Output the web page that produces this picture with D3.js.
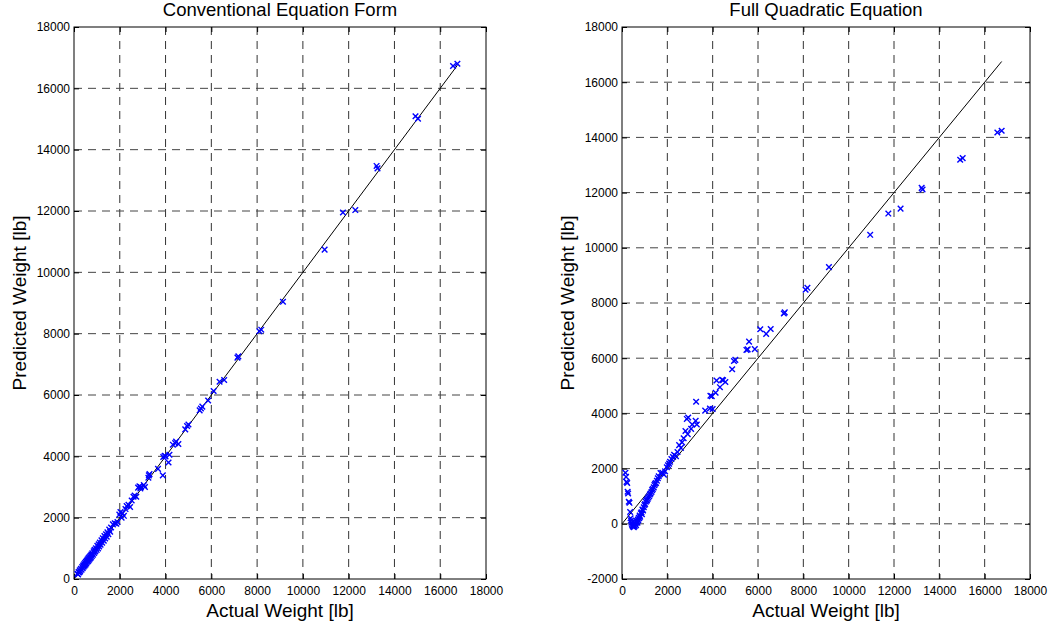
<!DOCTYPE html>
<html>
<head>
<meta charset="utf-8">
<script src="https://cdn.jsdelivr.net/npm/d3@7"></script>
<style>
  body { margin: 0; background: #fff; }
  text { font-family: "Liberation Sans", Arial, sans-serif; }
</style>
</head>
<body>
<div id="chart"></div>
<script>
// actual vs predicted weights [lb]
const actualWeight = [
  150, 180, 200, 230, 250, 270, 300, 330, 360, 380, 400, 420, 440, 460, 480, 500, 520, 540, 560, 580,
  600, 620, 640, 660, 680, 700, 720, 740, 760, 780, 800, 830, 860, 880, 900, 930, 960, 990, 1020, 1050,
  1080, 1100, 1130, 1160, 1200, 1230, 1260, 1300, 1330, 1360, 1400, 1430, 1460, 1500, 1540, 1580, 1620, 1700, 1780, 1850,
  1900, 1980, 2030, 2080, 2120, 2180, 2250, 2300, 2380, 2450, 2520, 2600, 2650, 2720, 2800, 2860, 2900, 2920, 3050, 3100,
  3250, 3270, 3300, 3670, 3880, 3900, 3960, 4000, 4130, 4170, 4320, 4420, 4460, 4560, 4860, 4940, 5000, 5490, 5545, 5606,
  5860, 6100, 6360, 6560, 7140, 7180, 8100, 8180, 9130, 10950, 11750, 12290, 13220, 13260, 14920, 15030, 16560, 16750
];
const predConventional = [
  170, 150, 230, 210, 280, 250, 330, 300, 390, 350, 440, 400, 480, 430, 520, 470, 560, 510, 600, 560,
  640, 590, 680, 630, 720, 670, 760, 700, 800, 750, 840, 790, 900, 850, 950, 900, 1000, 950, 1080, 1000,
  1130, 1060, 1190, 1120, 1260, 1180, 1330, 1250, 1400, 1320, 1460, 1380, 1520, 1460, 1610, 1540, 1680, 1780, 1820, 1800,
  1860, 2100, 2180, 2000, 2140, 2060, 2280, 2380, 2420, 2350, 2560, 2680, 2720, 2680, 2980, 3020, 2950, 3000, 3060, 3000,
  3300, 3380, 3420, 3590, 3380, 3980, 4020, 4000, 3800, 4050, 4380, 4430, 4480, 4400, 4880, 4990, 5040, 5500, 5560, 5620,
  5820, 6130, 6430, 6490, 7220, 7260, 8080, 8130, 9040, 10740, 11950, 12030, 13470, 13390, 15090, 15010, 16730, 16800
];
const predQuadratic = [
  1850, 1700, 1520, 1480, 1160, 1100, 800, 760, 430, 200, 120, 40, -20, -60, -100, -80, -120, -40, -90, 0,
  20, -50, 60, 100, 40, 150, 120, 220, 200, 300, 260, 380, 420, 350, 520, 480, 600, 680, 720, 800,
  850, 850, 900, 950, 1000, 1060, 1100, 1150, 1220, 1260, 1320, 1400, 1450, 1480, 1560, 1650, 1720, 1840, 1850, 1780,
  1900, 2050, 2120, 2180, 2250, 2350, 2420, 2500, 2450, 2600, 2850, 2750, 2950, 3100, 3360, 3800, 3250, 3850, 3440, 3600,
  3730, 4420, 3600, 4100, 4180, 4640, 4620, 4160, 4750, 5190, 4950, 5220, 5200, 5140, 5600, 5900, 5940, 6300, 6320, 6600,
  6330, 7050, 6880, 7060, 7620, 7660, 8480, 8550, 9300, 10470, 11240, 11420, 12170, 12110, 13190, 13250, 14180, 14240
];

const xTicks = [0, 2000, 4000, 6000, 8000, 10000, 12000, 14000, 16000, 18000];
const yTicksConventional = [0, 2000, 4000, 6000, 8000, 10000, 12000, 14000, 16000, 18000];
const yTicksQuadratic = [-2000, 0, 2000, 4000, 6000, 8000, 10000, 12000, 14000, 16000, 18000];
const titles = ["Conventional Equation Form", "Full Quadratic Equation"];
const xLabel = "Actual Weight [lb]";
const yLabel = "Predicted Weight [lb]";

const width = 1064, height = 625;
const plotTop = 27, plotBottom = 579;

const panels = [
  { title: titles[0], pred: predConventional, yTicks: yTicksConventional, left: 74, right: 486 },
  { title: titles[1], pred: predQuadratic, yTicks: yTicksQuadratic, left: 622, right: 1030 }
];

const svg = d3.select("#chart")
  .append("svg")
  .attr("width", width)
  .attr("height", height);

const plain = d => String(d);

panels.forEach(p => {
  const x = d3.scaleLinear().domain(d3.extent(xTicks)).range([p.left, p.right]);
  const y = d3.scaleLinear().domain(d3.extent(p.yTicks)).range([plotBottom, plotTop]);
  const g = svg.append("g");

  // dashed grid
  g.selectAll(".vgrid")
    .data(xTicks.slice(1, -1))
    .enter().append("line")
    .attr("x1", d => x(d)).attr("x2", d => x(d))
    .attr("y1", plotTop).attr("y2", plotBottom)
    .attr("stroke", "#333")
    .attr("stroke-dasharray", "8,6");

  g.selectAll(".hgrid")
    .data(p.yTicks.slice(1, -1))
    .enter().append("line")
    .attr("x1", p.left).attr("x2", p.right)
    .attr("y1", d => y(d)).attr("y2", d => y(d))
    .attr("stroke", "#444")
    .attr("stroke-dasharray", "8,6");

  // axes, ticks pointing inward
  const styleAxis = sel => {
    sel.select(".domain").remove();
    sel.selectAll("line").attr("stroke", "#000");
    sel.attr("font-family", null).attr("font-size", 12);
    sel.selectAll("text").attr("fill", "#000");
  };

  g.append("g")
    .attr("transform", `translate(0,${plotBottom})`)
    .call(d3.axisBottom(x).tickValues(xTicks).tickFormat(plain).tickSize(-5).tickPadding(7).tickSizeOuter(0))
    .call(styleAxis);

  g.append("g")
    .attr("transform", `translate(0,${plotTop})`)
    .call(d3.axisTop(x).tickValues(xTicks).tickSize(-5).tickFormat("").tickSizeOuter(0))
    .call(styleAxis);

  g.append("g")
    .attr("transform", `translate(${p.left},0)`)
    .call(d3.axisLeft(y).tickValues(p.yTicks).tickFormat(plain).tickSize(-5).tickPadding(4).tickSizeOuter(0))
    .call(styleAxis);

  g.append("g")
    .attr("transform", `translate(${p.right},0)`)
    .call(d3.axisRight(y).tickValues(p.yTicks).tickSize(-5).tickFormat("").tickSizeOuter(0))
    .call(styleAxis);

  g.append("rect")
    .attr("x", p.left).attr("y", plotTop)
    .attr("width", p.right - p.left).attr("height", plotBottom - plotTop)
    .attr("fill", "none")
    .attr("stroke", "#000");

  // 1:1 reference line
  const ref = [0, d3.max(actualWeight)];
  g.append("path")
    .datum(ref)
    .attr("fill", "none")
    .attr("stroke", "#000")
    .attr("d", d3.line().x(d => x(d)).y(d => y(d)));

  // x markers
  g.selectAll(".pt")
    .data(actualWeight.map((a, i) => [a, p.pred[i]]))
    .enter().append("path")
    .attr("transform", d => `translate(${x(d[0])},${y(d[1])})`)
    .attr("d", "M-2.8,-2.8L2.8,2.8M-2.8,2.8L2.8,-2.8")
    .attr("stroke", "#0000ff")
    .attr("stroke-width", 1.4)
    .attr("fill", "none");

  const cx = (p.left + p.right) / 2;
  g.append("text")
    .attr("x", cx).attr("y", 16)
    .attr("text-anchor", "middle")
    .attr("font-size", 18.5)
    .text(p.title);

  g.append("text")
    .attr("x", cx).attr("y", 617)
    .attr("text-anchor", "middle")
    .attr("font-size", 19)
    .text(xLabel);

  g.append("text")
    .attr("transform", `translate(${p.left - 48},${(plotTop + plotBottom) / 2}) rotate(-90)`)
    .attr("text-anchor", "middle")
    .attr("font-size", 19)
    .text(yLabel);
});
</script>
</body>
</html>
